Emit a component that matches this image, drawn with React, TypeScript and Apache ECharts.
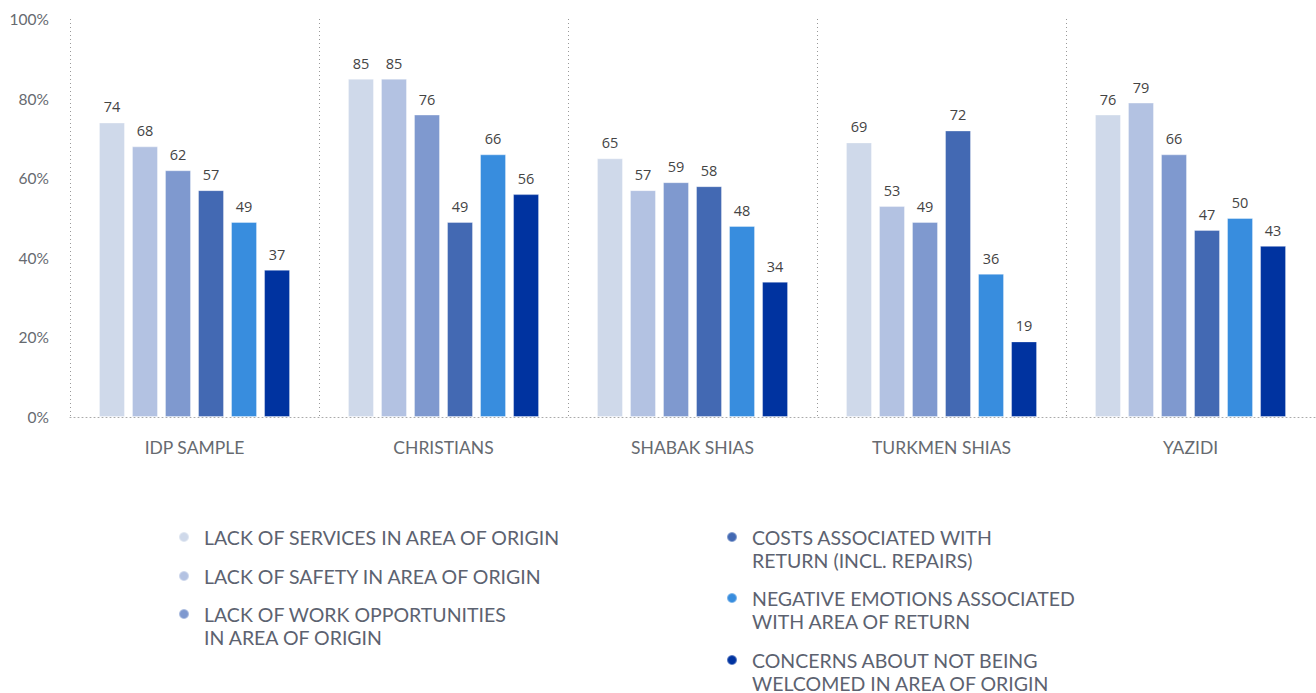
import React, { useEffect, useRef } from "react";
import * as echarts from "echarts";

const categories = ["IDP SAMPLE", "CHRISTIANS", "SHABAK SHIAS", "TURKMEN SHIAS", "YAZIDI"];
const seriesNames = [
  "LACK OF SERVICES IN AREA OF ORIGIN",
  "LACK OF SAFETY IN AREA OF ORIGIN",
  "LACK OF WORK OPPORTUNITIES\nIN AREA OF ORIGIN",
  "COSTS ASSOCIATED WITH\nRETURN (INCL. REPAIRS)",
  "NEGATIVE EMOTIONS ASSOCIATED\nWITH AREA OF RETURN",
  "CONCERNS ABOUT NOT BEING\nWELCOMED IN AREA OF ORIGIN",
];
const lackServices = [74, 85, 65, 69, 76];
const lackSafety = [68, 85, 57, 53, 79];
const lackWork = [62, 76, 59, 49, 66];
const costsReturn = [57, 49, 58, 72, 47];
const negativeEmotions = [49, 66, 48, 36, 50];
const notWelcomed = [37, 56, 34, 19, 43];
const seriesValues = [lackServices, lackSafety, lackWork, costsReturn, negativeEmotions, notWelcomed];
const colors = ["#cfd9ea", "#b3c2e2", "#7f99cf", "#4369b3", "#388dde", "#0033a0"];
const yTicks = [0, 20, 40, 60, 80, 100];

// legend placement: [left, firstLineCenterY]
const legendSpots = [
  [178, 537],
  [178, 576],
  [178, 614],
  [726, 537],
  [726, 598],
  [726, 660],
];

const FONT = "Lato, 'Noto Sans', sans-serif";

export default function App() {
  const ref = useRef<HTMLDivElement>(null);
  useEffect(() => {
    if (!ref.current) return;
    const chart = echarts.init(ref.current, null, { renderer: "svg" });
    const legends = seriesNames.map((name, i) => {
      const twoLine = name.includes("\n");
      const [left, y] = legendSpots[i];
      return {
        show: true,
        orient: "vertical",
        left,
        top: twoLine ? y - 34.5 : y - 11.5,
        padding: 0,
        itemWidth: 10,
        itemHeight: 10,
        icon: "circle",
        selectedMode: false,
        data: [name],
        formatter: (n: string) => (n.includes("\n") ? "\n" + n : n),
        textStyle: {
          fontFamily: FONT,
          fontSize: 19.5,
          color: "#5c6270",
          lineHeight: 23,
          padding: [0, 0, 0, 10],
        },
      };
    });
    chart.setOption({
      animation: false,
      grid: { left: 70, right: 1, top: 19, bottom: 276, containLabel: false },
      legend: legends,
      xAxis: {
        type: "category",
        data: categories,
        offset: 5,
        axisLine: { show: true, lineStyle: { color: "#aaaaaa", type: [1, 3], width: 1 } },
        axisTick: { show: false },
        axisLabel: {
          margin: 16,
          fontSize: 17.5,
          color: "#666a70",
          fontFamily: FONT,
        },
        splitLine: {
          show: true,
          showMaxLine: false,
          lineStyle: { color: "#999999", type: [1, 3], width: 1 },
        },
      },
      yAxis: {
        type: "value",
        min: yTicks[0],
        max: yTicks[yTicks.length - 1],
        interval: 20,
        axisLine: { show: false },
        axisTick: { show: false },
        splitLine: { show: false },
        axisLabel: {
          formatter: "{value}%",
          margin: 21,
          fontSize: 15.5,
          color: "#666a70",
          fontFamily: FONT,
        },
      },
      series: seriesValues.map((vals, i) => ({
        type: "bar",
        name: seriesNames[i],
        data: vals,
        barWidth: 26,
        barGap: "27%",
        itemStyle: { color: colors[i], borderColor: "rgba(255,255,255,0.35)", borderWidth: 1 },
        label: {
          show: true,
          position: "top",
          distance: 8,
          color: "#444444",
          fontSize: 14.5,
          fontFamily: "'Open Sans', 'Noto Sans', sans-serif",
        },
      })),
    });
    return () => chart.dispose();
  }, []);
  return (
    <div
      ref={ref}
      style={{ position: "fixed", left: 0, top: 0, width: 1316, height: 693, background: "#fff" }}
    />
  );
}
